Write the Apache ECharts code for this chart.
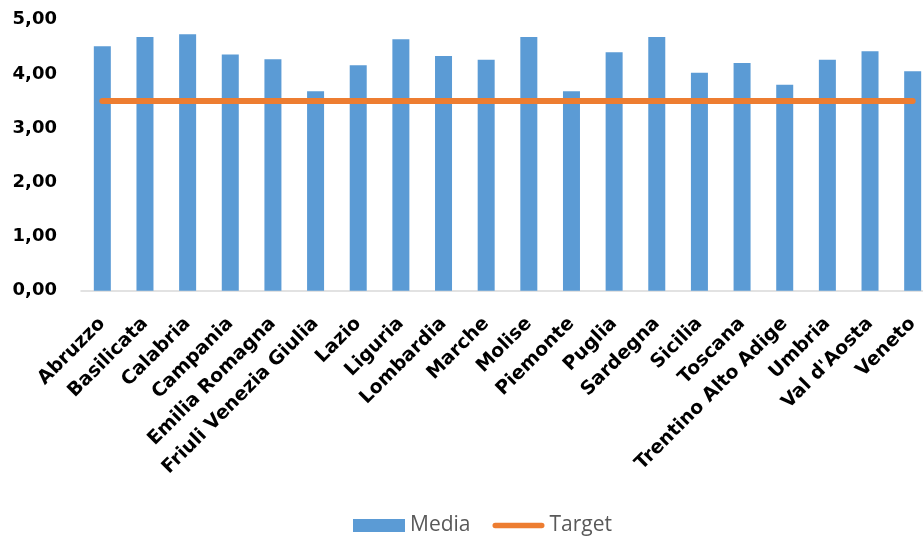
<!DOCTYPE html>
<html>
<head>
<meta charset="utf-8">
<script src="https://cdn.jsdelivr.net/npm/echarts@6/dist/echarts.min.js"></script>
<style>
  html, body { margin: 0; padding: 0; background: #fff; }
  #chart { width: 923px; height: 539px; }
</style>
</head>
<body>
<div id="chart"></div>
<script>
// Regions of Italy and their average score against the target
const regions = [
  'Abruzzo', 'Basilicata', 'Calabria', 'Campania', 'Emilia Romagna',
  'Friuli Venezia Giulia', 'Lazio', 'Liguria', 'Lombardia', 'Marche',
  'Molise', 'Piemonte', 'Puglia', 'Sardegna', 'Sicilia', 'Toscana',
  'Trentino Alto Adige', 'Umbria', "Val d'Aosta", 'Veneto'
];
const mediaValues = [
  4.51, 4.68, 4.73, 4.36, 4.27, 3.68, 4.16, 4.64, 4.33, 4.26,
  4.68, 3.68, 4.40, 4.68, 4.02, 4.20, 3.80, 4.26, 4.42, 4.05
];
const targetValue = 3.5;
const targetValues = regions.map(() => targetValue);
const yTicks = { min: 0, max: 5, interval: 1 };

const chart = echarts.init(document.getElementById('chart'), null, { renderer: 'canvas' });

const fmt = v => v.toFixed(2).replace('.', ',');

// thin rounded bar used as the legend mark of the target line
const targetIcon = 'path://M3,0 H55 A3,3 0 0 1 55,6 H3 A3,3 0 0 1 3,0 Z';

chart.setOption({
  animation: false,
  backgroundColor: '#ffffff',
  grid: {
    left: 81, top: 19.7, width: 853, height: 271,
    containLabel: false,
    outerBoundsMode: 'none'
  },
  legend: {
    top: 510,
    left: 348,
    itemWidth: 52,
    itemHeight: 13,
    itemGap: 22,
    textStyle: { color: '#595959', fontSize: 21, fontFamily: 'Open Sans' },
    data: [
      { name: 'Media', icon: 'rect' },
      { name: 'Target', icon: targetIcon }
    ]
  },
  xAxis: {
    type: 'category',
    data: regions,
    boundaryGap: true,
    axisLine: { show: true, lineStyle: { color: '#D9D9D9', width: 1.5 } },
    axisTick: { show: false },
    splitLine: { show: false },
    axisLabel: {
      interval: 0,
      rotate: 45,
      margin: 30,
      color: '#000000',
      fontSize: 19,
      fontWeight: 'bold',
      fontFamily: 'DejaVu Sans'
    }
  },
  yAxis: {
    type: 'value',
    min: yTicks.min,
    max: yTicks.max,
    interval: yTicks.interval,
    axisLine: { show: false },
    axisTick: { show: false },
    splitLine: { show: false },
    axisLabel: {
      formatter: fmt,
      margin: 24,
      color: '#000000',
      fontSize: 18,
      fontWeight: 'bold',
      fontFamily: 'DejaVu Sans'
    }
  },
  series: [
    {
      name: 'Media',
      type: 'bar',
      data: mediaValues,
      barWidth: 17,
      itemStyle: { color: '#5B9BD5' }
    },
    {
      name: 'Target',
      type: 'line',
      data: targetValues,
      symbol: 'none',
      lineStyle: { color: '#ED7D31', width: 6, cap: 'round' },
      itemStyle: { color: '#ED7D31' },
      z: 3
    }
  ]
});
</script>
</body>
</html>
